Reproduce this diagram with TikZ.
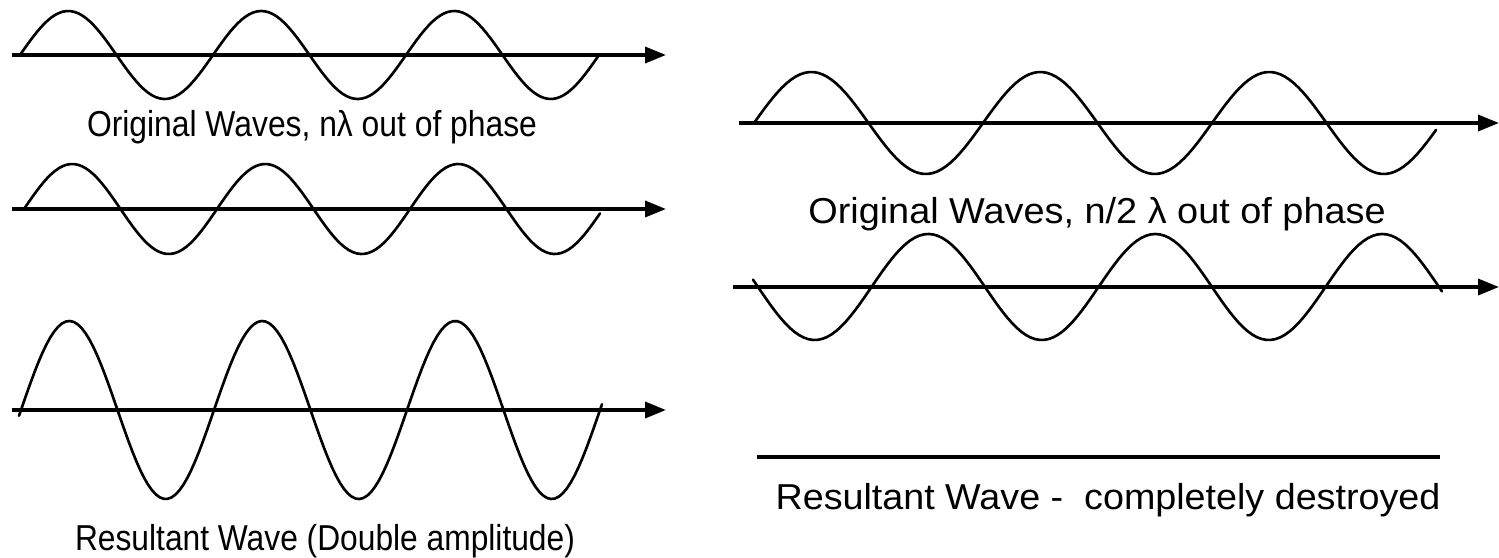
\documentclass[tikz,border=0pt]{standalone}
\usepackage{fontspec}
\setmainfont{Liberation Sans}
\usetikzlibrary{arrows.meta}
\tikzset{
  axisline/.style={line width=2pt, -{Triangle[length=0.42cm,width=0.32cm]}},
  plainline/.style={line width=2pt},
  wave/.style={line width=1.5pt, line join=round, line cap=round},
  lbl/.style={font=\fontsize{20.5}{22}\selectfont, inner sep=0pt, anchor=center}
}
\begin{document}
\begin{tikzpicture}[x=0.02cm,y=-0.02cm]
\useasboundingbox (0,0) rectangle (1499,558);
% ---------- left side ----------
\coordinate (l1s) at (12,55);  \coordinate (l1e) at (666,55);
\coordinate (l2s) at (12,209); \coordinate (l2e) at (666,209);
\coordinate (l3s) at (12,410); \coordinate (l3e) at (666,410);
\draw[axisline] (l1s) -- (l1e);
\draw[axisline] (l2s) -- (l2e);
\draw[axisline] (l3s) -- (l3e);
\draw[wave] plot[domain=20:599, samples=150] (\x, {55-44*sin((\x-20)/193*360)});
\draw[wave] plot[domain=24:600, samples=150] (\x, {209-45*sin((\x-24)/193*360)});
\draw[wave] plot[domain=19:602, samples=150] (\x, {410-89*sin((\x-21)/193*360)});
\node[lbl] (lt1) at (312,127) {\resizebox{9.0cm}{\height}{Original Waves, nλ out of phase}};
\node[lbl] (lt3) at (325,541) {\resizebox{10.0cm}{\height}{Resultant Wave (Double amplitude)}};
% ---------- right side ----------
\coordinate (r1s) at (739,123); \coordinate (r1e) at (1499,123);
\coordinate (r2s) at (733,287); \coordinate (r2e) at (1499,287);
\coordinate (r3s) at (757,457); \coordinate (r3e) at (1440,457);
\draw[axisline] (r1s) -- (r1e);
\draw[axisline] (r2s) -- (r2e);
\draw[plainline] (r3s) -- (r3e);
\draw[wave] plot[domain=754:1436, samples=150] (\x, {123-51*sin((\x-754)/229*360)});
\draw[wave] plot[domain=753:1442, samples=150] (\x, {287+53*sin((\x-758)/227*360)});
\node[lbl] (rt1) at (1097,214) {\resizebox{11.55cm}{\height}{Original Waves, n/2 λ out of phase}};
\node[lbl] (rt3) at (1108,500) {\resizebox{13.3cm}{\height}{Resultant Wave -\ \ completely destroyed}};
\end{tikzpicture}
\end{document}
